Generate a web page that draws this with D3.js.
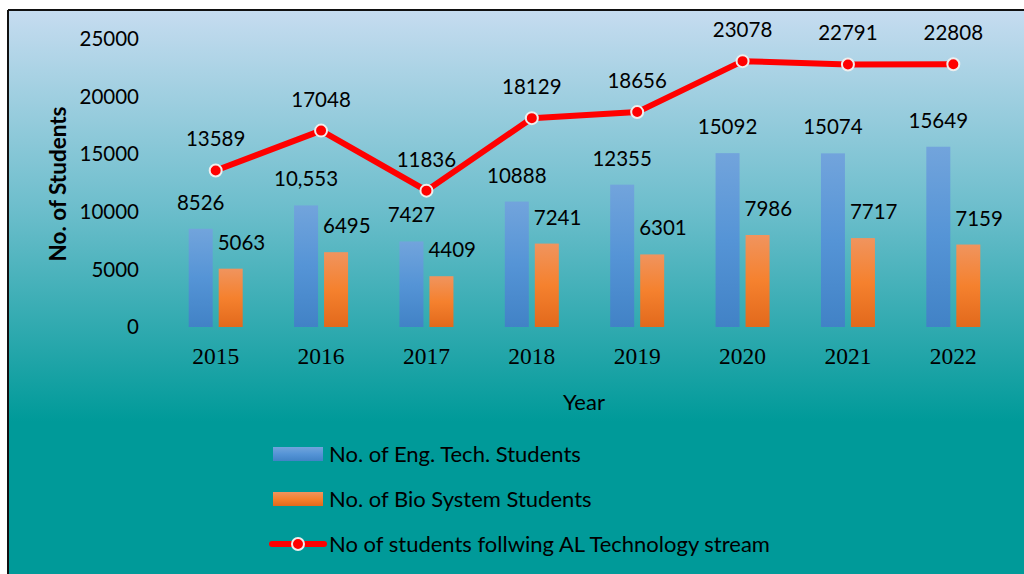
<!DOCTYPE html>
<html>
<head>
<meta charset="utf-8">
<script src="https://cdn.jsdelivr.net/npm/d3@7"></script>
<style>
  body { margin: 0; background: #fff; }
  svg { display: block; }
</style>
</head>
<body>
<div id="chart"></div>
<script>
var years = ["2015", "2016", "2017", "2018", "2019", "2020", "2021", "2022"];
var engTech = [8526, 10553, 7427, 10888, 12355, 15092, 15074, 15649];
var bioSystem = [5063, 6495, 4409, 7241, 6301, 7986, 7717, 7159];
var alTech = [13589, 17048, 11836, 18129, 18656, 23078, 22791, 22808];
var engLabels = ["8526", "10,553", "7427", "10888", "12355", "15092", "15074", "15649"];
var yTicks = [0, 5000, 10000, 15000, 20000, 25000];
var legendNames = ["No. of Eng. Tech. Students", "No. of Bio System Students", "No of students follwing AL Technology stream"];

var W = 1024, H = 574;
var sansFont = "Lato, 'Open Sans', sans-serif";
var numSize = 20.5;

var svg = d3.select("#chart").append("svg")
    .attr("width", W)
    .attr("height", H);

var defs = svg.append("defs");

var bg = defs.append("linearGradient").attr("id", "bg")
    .attr("x1", 0).attr("y1", 0).attr("x2", 0).attr("y2", 1);
bg.append("stop").attr("offset", "0").attr("stop-color", "#c6dcf0");
bg.append("stop").attr("offset", "0.35").attr("stop-color", "#6dbecc");
bg.append("stop").attr("offset", "0.73").attr("stop-color", "#009a99");
bg.append("stop").attr("offset", "1").attr("stop-color", "#009a99");

var blueGrad = defs.append("linearGradient").attr("id", "blueGrad")
    .attr("x1", 0).attr("y1", 0).attr("x2", 0).attr("y2", 1);
blueGrad.append("stop").attr("offset", "0").attr("stop-color", "#72a4dc");
blueGrad.append("stop").attr("offset", "0.5").attr("stop-color", "#5594d6");
blueGrad.append("stop").attr("offset", "1").attr("stop-color", "#4182c6");

var orangeGrad = defs.append("linearGradient").attr("id", "orangeGrad")
    .attr("x1", 0).attr("y1", 0).attr("x2", 0).attr("y2", 1);
orangeGrad.append("stop").attr("offset", "0").attr("stop-color", "#f0945e");
orangeGrad.append("stop").attr("offset", "0.5").attr("stop-color", "#f5812e");
orangeGrad.append("stop").attr("offset", "1").attr("stop-color", "#e2691c");

// background panel with border
svg.append("rect")
    .attr("x", 9).attr("y", 10)
    .attr("width", W - 9).attr("height", H - 10)
    .attr("fill", "url(#bg)");
svg.append("line")
    .attr("x1", 8).attr("x2", W).attr("y1", 10).attr("y2", 10)
    .attr("stroke", "#111").attr("stroke-width", 2);
svg.append("line")
    .attr("x1", 8).attr("x2", 8).attr("y1", 10).attr("y2", H)
    .attr("stroke", "#111").attr("stroke-width", 2);

var X = d3.scaleBand()
    .domain(years)
    .range([163, 1006]);

var Y = d3.scaleLinear()
    .domain([0, 25000])
    .range([327, 39]);

var barW = 24, barGap = 6;

// y tick labels
svg.selectAll(".ytick")
    .data(yTicks)
    .enter().append("text")
    .attr("class", "ytick")
    .attr("x", 139)
    .attr("y", function(d) { return Y(d); })
    .attr("dy", "0.35em")
    .attr("text-anchor", "end")
    .attr("font-family", sansFont)
    .attr("font-size", numSize)
    .attr("fill", "#000")
    .text(function(d) { return d; });

// x tick labels
svg.selectAll(".xtick")
    .data(years)
    .enter().append("text")
    .attr("class", "xtick")
    .attr("x", function(d) { return X(d) + X.bandwidth() / 2; })
    .attr("y", 364)
    .attr("text-anchor", "middle")
    .attr("font-family", "'Liberation Serif', 'Times New Roman', serif")
    .attr("font-size", 23.5)
    .attr("fill", "#000")
    .text(function(d) { return d; });

// axis titles
svg.append("text")
    .attr("x", 584).attr("y", 410)
    .attr("text-anchor", "middle")
    .attr("font-family", sansFont)
    .attr("font-size", 22)
    .text("Year");

svg.append("text")
    .attr("transform", "translate(66,184) rotate(-90)")
    .attr("text-anchor", "middle")
    .attr("font-family", sansFont)
    .attr("font-weight", "bold")
    .attr("font-size", 22.5)
    .text("No. of Students");

// bars
function cx(i) { return X(years[i]) + X.bandwidth() / 2; }

svg.selectAll(".eng")
    .data(engTech)
    .enter().append("rect")
    .attr("class", "eng")
    .attr("x", function(d, i) { return cx(i) - barGap / 2 - barW; })
    .attr("y", function(d) { return Y(d); })
    .attr("width", barW)
    .attr("height", function(d) { return Y(0) - Y(d); })
    .attr("fill", "url(#blueGrad)");

svg.selectAll(".bio")
    .data(bioSystem)
    .enter().append("rect")
    .attr("class", "bio")
    .attr("x", function(d, i) { return cx(i) + barGap / 2; })
    .attr("y", function(d) { return Y(d); })
    .attr("width", barW)
    .attr("height", function(d) { return Y(0) - Y(d); })
    .attr("fill", "url(#orangeGrad)");

// bar labels
svg.selectAll(".engLab")
    .data(engTech)
    .enter().append("text")
    .attr("class", "engLab")
    .attr("x", function(d, i) { return cx(i) - barGap / 2 - barW / 2; })
    .attr("y", function(d) { return Y(d) - 19; })
    .attr("text-anchor", "middle")
    .attr("font-family", sansFont)
    .attr("font-size", numSize)
    .text(function(d, i) { return engLabels[i]; });

svg.selectAll(".bioLab")
    .data(bioSystem)
    .enter().append("text")
    .attr("class", "bioLab")
    .attr("x", function(d, i) { return cx(i) + barGap / 2 - 1; })
    .attr("y", function(d) { return Y(d) - 19; })
    .attr("text-anchor", "start")
    .attr("font-family", sansFont)
    .attr("font-size", numSize)
    .text(function(d) { return d; });

// line series
var line = d3.line()
    .x(function(d, i) { return cx(i); })
    .y(function(d) { return Y(d); });

svg.append("path")
    .datum(alTech)
    .attr("d", line)
    .attr("fill", "none")
    .attr("stroke", "#ff0000")
    .attr("stroke-width", 6)
    .attr("stroke-linejoin", "round");

svg.selectAll(".pt")
    .data(alTech)
    .enter().append("circle")
    .attr("class", "pt")
    .attr("cx", function(d, i) { return cx(i); })
    .attr("cy", function(d) { return Y(d); })
    .attr("r", 6)
    .attr("fill", "#ff0000")
    .attr("stroke", "#eeeeee")
    .attr("stroke-width", 2);

svg.selectAll(".ptLab")
    .data(alTech)
    .enter().append("text")
    .attr("class", "ptLab")
    .attr("x", function(d, i) { return cx(i); })
    .attr("y", function(d) { return Y(d) - 24; })
    .attr("text-anchor", "middle")
    .attr("font-family", sansFont)
    .attr("font-size", numSize)
    .text(function(d) { return d; });

// legend
var legend = svg.append("g").attr("transform", "translate(273,0)");
var legY = [454, 499, 544];

legend.append("rect")
    .attr("x", 0).attr("y", legY[0] - 7)
    .attr("width", 50).attr("height", 14)
    .attr("fill", "url(#blueGrad)");
legend.append("rect")
    .attr("x", 0).attr("y", legY[1] - 7)
    .attr("width", 50).attr("height", 14)
    .attr("fill", "url(#orangeGrad)");
legend.append("line")
    .attr("x1", -1).attr("x2", 51)
    .attr("y1", legY[2]).attr("y2", legY[2])
    .attr("stroke", "#ff0000").attr("stroke-width", 6)
    .attr("stroke-linecap", "round");
legend.append("circle")
    .attr("cx", 25).attr("cy", legY[2]).attr("r", 6)
    .attr("fill", "#ff0000")
    .attr("stroke", "#eeeeee").attr("stroke-width", 2);

legend.selectAll(".legText")
    .data(legendNames)
    .enter().append("text")
    .attr("class", "legText")
    .attr("x", 56)
    .attr("y", function(d, i) { return legY[i]; })
    .attr("dy", "0.35em")
    .attr("font-family", sansFont)
    .attr("font-size", 22)
    .text(function(d) { return d; });
</script>
</body>
</html>
